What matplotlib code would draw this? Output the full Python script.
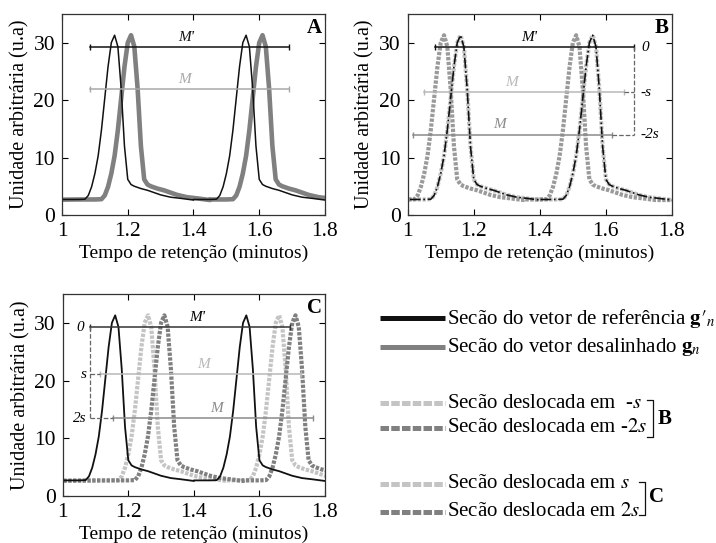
import numpy as np
import matplotlib.pyplot as plt

plt.rcParams['font.family'] = ['Liberation Serif', 'DejaVu Serif']
plt.rcParams['mathtext.fontset'] = 'stix'

# one section of the reference vector (time offset from section start, signal)
profile_t = [0.00, 0.05, 0.07, 0.08, 0.09, 0.10, 0.11, 0.12, 0.13, 0.14, 0.15,
             0.16, 0.17, 0.18, 0.19, 0.20, 0.21, 0.22, 0.24, 0.26, 0.28, 0.30,
             0.33, 0.36, 0.40]
profile_y = [2.7, 2.7, 2.75, 3.4, 4.9, 7.2, 10.3, 14.8, 20.3, 25.8, 30.0,
             31.3, 29.3, 22.0, 12.0, 6.2, 5.3, 5.0, 4.6, 4.3, 3.9, 3.5,
             3.1, 2.9, 2.6]
section_starts = [1.0, 1.4]
baseline = 2.6
misalign = 0.05   # shift of the misaligned vector
s = 0.05          # shift step

xticks = [1, 1.2, 1.4, 1.6, 1.8]
xticklabels = ['1', '1.2', '1.4', '1.6', '1.8']
yticks = [0, 10, 20, 30]

# window lines  (x start, x end, y)
A_lines = {"Mp": (1.085, 1.691, 29.2), "M": (1.085, 1.691, 21.9)}
B_lines = {"Mp": (1.083, 1.686, 29.2), "Ms": (1.050, 1.656, 21.4), "M2s": (1.015, 1.618, 14.0)}
C_lines = {"Mp": (1.084, 1.693, 29.2), "Ms": (1.114, 1.728, 21.1), "M2s": (1.154, 1.764, 13.5)}

BLACK = '#111111'
GREY = '#808080'
LIGHT = '#c4c4c4'
DARK = '#808080'


def curve(shift):
    t = [0.9]
    y = [baseline]
    for st in section_starts:
        t += [st + shift + v for v in profile_t]
        y += profile_y
    t.append(1.9)
    y.append(baseline)
    return np.array(t), np.array(y)


def style_axes(ax, letter):
    ax.set_xlim(1, 1.8)
    ax.set_ylim(0, 35)
    ax.set_xticks(xticks)
    ax.set_xticklabels(xticklabels)
    ax.set_yticks(yticks)
    ax.tick_params(direction='in', top=True, right=True, labelsize=15.5, length=4, pad=5)
    for sp in ax.spines.values():
        sp.set_color('#333333')
        sp.set_linewidth(0.9)
    ax.set_xlabel('Tempo de retenção (minutos)', fontsize=14, labelpad=3)
    ax.set_ylabel('Unidade arbitrária (u.a)', fontsize=14.5, labelpad=3)
    ax.text(1.79, 32.6, letter, fontsize=15, fontweight='bold', ha='right', va='center')


def mline(ax, x0, x1, y, color, caps=True):
    ax.plot([x0, x1], [y, y], color=color, lw=1.1,
            marker='|' if caps else None, ms=5, mew=1)


dotted = dict(lw=3.0, dashes=(0.8, 0.35))

fig = plt.figure(figsize=(7.16, 5.43), dpi=100)

# ---------------- A
axA = fig.add_axes([0.0866, 0.6041, 0.3673, 0.3702])
t, y = curve(0)
tm, ym = curve(misalign)
axA.plot(tm, ym, color=GREY, lw=3.3, solid_capstyle='butt')
axA.plot(t, y, color=BLACK, lw=1.1)
x0, x1, yy = A_lines["Mp"]
mline(axA, x0, x1, yy, BLACK)
axA.text(1.379, yy + 0.6, "M'", fontsize=11, style='italic', ha='center', va='bottom', color=BLACK)
x0, x1, yy = A_lines["M"]
mline(axA, x0, x1, yy, '#a8a8a8')
axA.text(1.374, yy + 0.6, "M", fontsize=11, style='italic', ha='center', va='bottom', color='#a8a8a8')
style_axes(axA, 'A')

# ---------------- B
axB = fig.add_axes([0.5694, 0.6041, 0.3691, 0.3702])
tl, yl = curve(misalign - s)
td, yd = curve(misalign - 2 * s)
axB.plot(tl, yl, color=LIGHT, **dotted)
axB.plot(td, yd, color='#9a9a9a', **dotted)
axB.plot(t, y, color=BLACK, lw=1.2, ls='-.')
xr = B_lines["Mp"][1]
x0, x1, yy = B_lines["Mp"]
mline(axB, x0, x1, yy, BLACK)
axB.text(1.367, yy + 0.6, "M'", fontsize=11, style='italic', ha='center', va='bottom')
axB.text(xr + 0.02, yy, "0", fontsize=11, style='italic', ha='left', va='center')
x0, x1, yy = B_lines["Ms"]
mline(axB, x0, x1, yy, '#b8b8b8')
axB.plot([x1, xr], [yy, yy], color='#666666', lw=0.9, ls='--')
axB.text(1.313, yy + 0.6, "M", fontsize=11, style='italic', ha='center', va='bottom', color='#b8b8b8')
axB.text(xr + 0.02, yy, "-s", fontsize=11, style='italic', ha='left', va='center')
x0, x1, yy2 = B_lines["M2s"]
mline(axB, x0, x1, yy2, '#8a8a8a')
axB.plot([x1, xr], [yy2, yy2], color='#666666', lw=0.9, ls='--')
axB.text(1.278, yy2 + 0.6, "M", fontsize=11, style='italic', ha='center', va='bottom', color='#8a8a8a')
axB.text(xr + 0.02, yy2, "-2s", fontsize=11, style='italic', ha='left', va='center')
axB.plot([xr, xr], [B_lines["Mp"][2], yy2], color='#666666', lw=0.9, ls='--')
style_axes(axB, 'B')

# ---------------- C
axC = fig.add_axes([0.0876, 0.0866, 0.3663, 0.3720])
tl, yl = curve(misalign + s)
td, yd = curve(misalign + 2 * s)
axC.plot(tl, yl, color=LIGHT, **dotted)
axC.plot(td, yd, color=DARK, **dotted)
axC.plot(t, y, color=BLACK, lw=1.3)
xl = C_lines["Mp"][0]
x0, x1, yy = C_lines["Mp"]
mline(axC, x0, x1, yy, '#333333')
axC.text(1.41, yy + 0.6, "M'", fontsize=11, style='italic', ha='center', va='bottom')
axC.text(xl - 0.018, yy, "0", fontsize=11, style='italic', ha='right', va='center')
x0, x1, yy = C_lines["Ms"]
mline(axC, x0, x1, yy, '#b8b8b8')
axC.plot([xl, x0], [yy, yy], color='#666666', lw=0.9, ls='--')
axC.text(1.43, yy + 0.6, "M", fontsize=11, style='italic', ha='center', va='bottom', color='#b8b8b8')
axC.text(xl - 0.012, yy, "s", fontsize=11, style='italic', ha='right', va='center')
x0, x1, yy2 = C_lines["M2s"]
mline(axC, x0, x1, yy2, '#8a8a8a')
axC.plot([xl, x0], [yy2, yy2], color='#666666', lw=0.9, ls='--')
axC.text(1.47, yy2 + 0.6, "M", fontsize=11, style='italic', ha='center', va='bottom', color='#8a8a8a')
axC.text(xl - 0.012, yy2, "2s", fontsize=11, style='italic', ha='right', va='center')
axC.plot([xl, xl], [C_lines["Mp"][2], yy2], color='#666666', lw=0.9, ls='--')
style_axes(axC, 'C')

# ---------------- legend (drawn in figure pixels)
leg = fig.add_axes([0, 0, 1, 1])
leg.set_xlim(0, 716)
leg.set_ylim(543, 0)
leg.axis('off')

legend_labels = [r"Secão do vetor de referência $\mathbf{g}\prime_{n}$",
                 r"Secão do vetor desalinhado $\mathbf{g}_n$",
                 r"Secão deslocada em  -$\mathit{s}$",
                 r"Secão deslocada em -$\mathit{2s}$",
                 r"Secão deslocada em $\mathit{s}$",
                 r"Secão deslocada em $\mathit{2s}$"]
legend_colors = [BLACK, GREY, LIGHT, DARK, LIGHT, DARK]
legend_dashed = [False, False, True, True, True, True]
legend_rows = [318, 347, 403, 428, 484, 512]

for lab, col, dsh, yy in zip(legend_labels, legend_colors, legend_dashed, legend_rows):
    kw = dict(dashes=(1.7, 0.45)) if dsh else {}
    leg.plot([380, 445], [yy, yy], color=col, lw=3.6, solid_capstyle='butt', **kw)
    leg.text(447, yy, lab, fontsize=15, ha='left', va='center')

# brackets
leg.plot([647, 653, 653, 647], [400, 400, 437, 437], color=BLACK, lw=0.9)
leg.text(658, 419, 'B', fontsize=15, fontweight='bold', ha='left', va='center')
leg.plot([639, 645, 645, 639], [482, 482, 515, 515], color=BLACK, lw=0.9)
leg.text(649, 497, 'C', fontsize=15, fontweight='bold', ha='left', va='center')

fig.savefig('out.png', dpi=100)
